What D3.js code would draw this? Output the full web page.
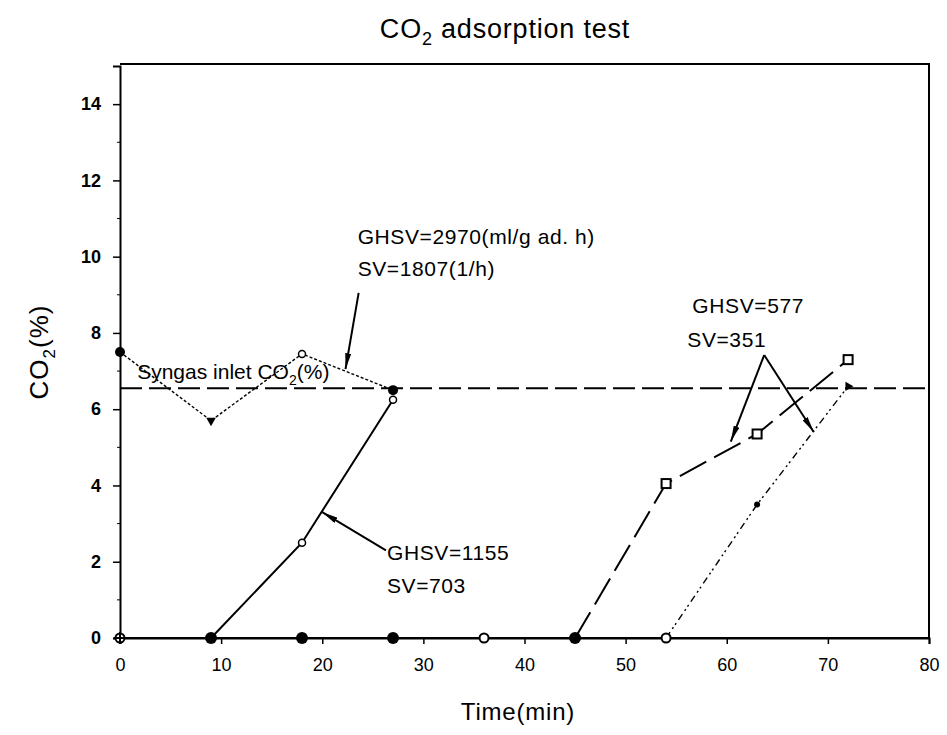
<!DOCTYPE html>
<html>
<head>
<meta charset="utf-8">
<script src="https://cdn.jsdelivr.net/npm/d3@7"></script>
<style>
  body { margin: 0; background: #fff; }
  text { font-family: "Liberation Sans", Arial, sans-serif; fill: #000; }
</style>
</head>
<body>
<div id="chart"></div>
<script>
// data
const times = [0, 9, 18, 27, 36, 45, 54, 63, 72];
const ghsv2970 = [7.5, 5.7, 7.45, 6.5];            // t = 0..27
const ghsv1155 = [0, 0, 2.5, 6.25];                // t = 0..27
const ghsv577a = [0, 0, 0, 0, 0, 0, 4.05, 5.35, 7.3];
const ghsv577b = [0, 0, 0, 0, 0, 0, 0, 3.5, 6.6];
const inletCO2 = 6.55;
const baseMarks = ['cross', 'dot', 'dot', 'dot', 'ring', 'dot', 'ring'];
const xTicks = [0, 10, 20, 30, 40, 50, 60, 70, 80];
const yTicks = [0, 2, 4, 6, 8, 10, 12, 14];

const W = 947, H = 735;
const margin = { top: 64, right: 18, bottom: 97, left: 120 };

const svg = d3.select('#chart').append('svg')
  .attr('width', W)
  .attr('height', H);

const x = d3.scaleLinear().domain([0, 80]).range([margin.left, W - margin.right]);
const y = d3.scaleLinear().domain([0, 15]).range([H - margin.bottom, margin.top + 2]);

// frame (top + right)
svg.append('path')
  .attr('d', 'M' + x(0) + ',' + (margin.top) + 'H' + x(80) + 'V' + y(0))
  .attr('fill', 'none').attr('stroke', '#000').attr('stroke-width', 2);

// axes
const xAxis = svg.append('g')
  .attr('transform', 'translate(0,' + y(0) + ')')
  .call(d3.axisBottom(x).tickValues(xTicks).tickSize(6).tickPadding(14));
const yAxis = svg.append('g')
  .attr('transform', 'translate(' + x(0) + ',0)')
  .call(d3.axisLeft(y).tickValues(yTicks).tickSize(7).tickPadding(12));
// minor y ticks
svg.append('g').selectAll('line')
  .data(d3.range(1, 15, 2))
  .enter().append('line')
  .attr('x1', x(0) - 3).attr('x2', x(0))
  .attr('y1', d => y(d)).attr('y2', d => y(d))
  .attr('stroke', '#000');

[xAxis, yAxis].forEach(function (g) {
  g.select('.domain').attr('stroke-width', 2);
  g.selectAll('.tick line').attr('stroke-width', 1.5);
  g.selectAll('.tick text')
    .style('font-size', '18px')
    .style('font-family', '"Liberation Sans", Arial, sans-serif');
});
yAxis.selectAll('.tick text').style('font-weight', 'bold');

// inlet CO2 dashed reference line
svg.append('line')
  .attr('x1', x(0)).attr('x2', x(80))
  .attr('y1', y(inletCO2)).attr('y2', y(inletCO2))
  .attr('stroke', '#000').attr('stroke-width', 2)
  .attr('stroke-dasharray', '22,7');

const line = d3.line().x(d => x(d[0])).y(d => y(d[1]));
const pairs = (vals) => vals.map((v, i) => [times[i], v]);

// baseline running along the x axis at zero
svg.append('path')
  .datum([[0, 0], [80, 0]])
  .attr('d', line).attr('stroke', '#000').attr('stroke-width', 2).attr('fill', 'none');

// series lines
svg.append('path').datum(pairs(ghsv2970)).attr('d', line)
  .attr('fill', 'none').attr('stroke', '#000').attr('stroke-width', 1.4)
  .attr('stroke-dasharray', '3,2');
svg.append('path').datum(pairs(ghsv1155).slice(1)).attr('d', line)
  .attr('fill', 'none').attr('stroke', '#000').attr('stroke-width', 2);
svg.append('path').datum(pairs(ghsv577a).slice(5)).attr('d', line)
  .attr('fill', 'none').attr('stroke', '#000').attr('stroke-width', 2)
  .attr('stroke-dasharray', '30,9');
svg.append('path').datum(pairs(ghsv577b).slice(6)).attr('d', line)
  .attr('fill', 'none').attr('stroke', '#000').attr('stroke-width', 1.4)
  .attr('stroke-dasharray', '7,4,2,3,2,4');

// markers
const pts2970 = pairs(ghsv2970);
svg.append('circle').attr('cx', x(pts2970[0][0])).attr('cy', y(pts2970[0][1])).attr('r', 5);
svg.append('path').attr('d', d3.symbol(d3.symbolTriangle, 40))
  .attr('transform', 'translate(' + x(pts2970[1][0]) + ',' + y(pts2970[1][1]) + ') rotate(180)');
svg.append('circle').attr('cx', x(pts2970[2][0])).attr('cy', y(pts2970[2][1])).attr('r', 3.5)
  .attr('fill', '#fff').attr('stroke', '#000').attr('stroke-width', 1.5);
svg.append('circle').attr('cx', x(pts2970[3][0])).attr('cy', y(pts2970[3][1])).attr('r', 5);

pairs(ghsv1155).slice(2).forEach(function (p) {
  svg.append('circle').attr('cx', x(p[0])).attr('cy', y(p[1])).attr('r', 3.5)
    .attr('fill', '#fff').attr('stroke', '#000').attr('stroke-width', 1.5);
});
pairs(ghsv577a).slice(6).forEach(function (p) {
  svg.append('rect').attr('x', x(p[0]) - 4.5).attr('y', y(p[1]) - 4.5)
    .attr('width', 9).attr('height', 9)
    .attr('fill', '#fff').attr('stroke', '#000').attr('stroke-width', 2);
});
pairs(ghsv577b).slice(7).forEach(function (p, i) {
  if (i === 0) {
    svg.append('circle').attr('cx', x(p[0])).attr('cy', y(p[1])).attr('r', 3);
  } else {
    svg.append('path').attr('d', d3.symbol(d3.symbolTriangle, 36))
      .attr('transform', 'translate(' + x(p[0]) + ',' + y(p[1]) + ') rotate(90)');
  }
});

// baseline markers
baseMarks.forEach(function (m, i) {
  const cx = x(times[i]), cy = y(0);
  if (m === 'dot') {
    svg.append('circle').attr('cx', cx).attr('cy', cy).attr('r', 6);
  } else if (m === 'ring') {
    svg.append('circle').attr('cx', cx).attr('cy', cy).attr('r', 4.5)
      .attr('fill', '#fff').attr('stroke', '#000').attr('stroke-width', 2);
  } else {
    svg.append('circle').attr('cx', cx).attr('cy', cy).attr('r', 4.5)
      .attr('fill', '#fff').attr('stroke', '#000').attr('stroke-width', 2);
    svg.append('path').attr('d', 'M' + (cx - 6) + ',' + cy + 'H' + (cx + 6) + 'M' + cx + ',' + (cy - 6) + 'V' + (cy + 6))
      .attr('stroke', '#000').attr('stroke-width', 2);
  }
});

// annotation arrows (data coordinates: from -> tip)
const arrows = [
  { from: [23.6, 9.05], to: [22.3, 7.05] },
  { from: [26.3, 2.3], to: [20.0, 3.3] },
  { from: [63.7, 7.42], to: [60.4, 5.15] },
  { from: [63.7, 7.42], to: [68.6, 5.4] }
];
svg.append('defs').append('marker')
  .attr('id', 'head')
  .attr('viewBox', '0 0 16 6')
  .attr('refX', 16).attr('refY', 3)
  .attr('markerWidth', 16).attr('markerHeight', 6)
  .attr('markerUnits', 'userSpaceOnUse')
  .attr('orient', 'auto')
  .append('path').attr('d', 'M0,0L16,3L0,6Z').attr('fill', '#000');
svg.append('g').selectAll('line')
  .data(arrows)
  .enter().append('line')
  .attr('x1', d => x(d.from[0])).attr('y1', d => y(d.from[1]))
  .attr('x2', d => x(d.to[0])).attr('y2', d => y(d.to[1]))
  .attr('stroke', '#000').attr('stroke-width', 2)
  .attr('marker-end', 'url(#head)');

// annotation text
const notes = [
  { t: 'GHSV=2970(ml/g ad. h)', at: [23.5, 10.33] },
  { t: 'SV=1807(1/h)', at: [23.5, 9.5] },
  { t: 'GHSV=1155', at: [26.4, 2.05] },
  { t: 'SV=703', at: [26.4, 1.18] },
  { t: 'GHSV=577', at: [56.6, 8.52] },
  { t: 'SV=351', at: [56.1, 7.63] }
];
svg.append('g').selectAll('text')
  .data(notes)
  .enter().append('text')
  .attr('x', d => x(d.at[0])).attr('y', d => y(d.at[1]))
  .style('font-size', '21px')
  .style('letter-spacing', '0.6px')
  .text(d => d.t);

const syn = svg.append('text')
  .attr('x', x(1.7)).attr('y', y(6.78))
  .style('font-size', '21px');
syn.append('tspan').text('Syngas inlet CO');
syn.append('tspan').attr('dy', 6).style('font-size', '14px').text('2');
syn.append('tspan').attr('dy', -6).text('(%)');

// title
const title = svg.append('text')
  .attr('x', 505).attr('y', 38)
  .attr('text-anchor', 'middle')
  .style('font-size', '27px')
  .style('letter-spacing', '0.8px');
title.append('tspan').text('CO');
title.append('tspan').attr('dy', 7).style('font-size', '18px').text('2');
title.append('tspan').attr('dy', -7).text(' adsorption test');

// axis titles
svg.append('text')
  .attr('x', 518).attr('y', 720)
  .attr('text-anchor', 'middle')
  .style('font-size', '24px')
  .style('letter-spacing', '0.8px')
  .text('Time(min)');

const yl = svg.append('text')
  .attr('transform', 'translate(48,352) rotate(-90)')
  .attr('text-anchor', 'middle')
  .style('font-size', '26px')
  .style('letter-spacing', '1px');
yl.append('tspan').text('CO');
yl.append('tspan').attr('dy', 7).style('font-size', '17px').text('2');
yl.append('tspan').attr('dy', -7).text('(%)');
</script>
</body>
</html>
